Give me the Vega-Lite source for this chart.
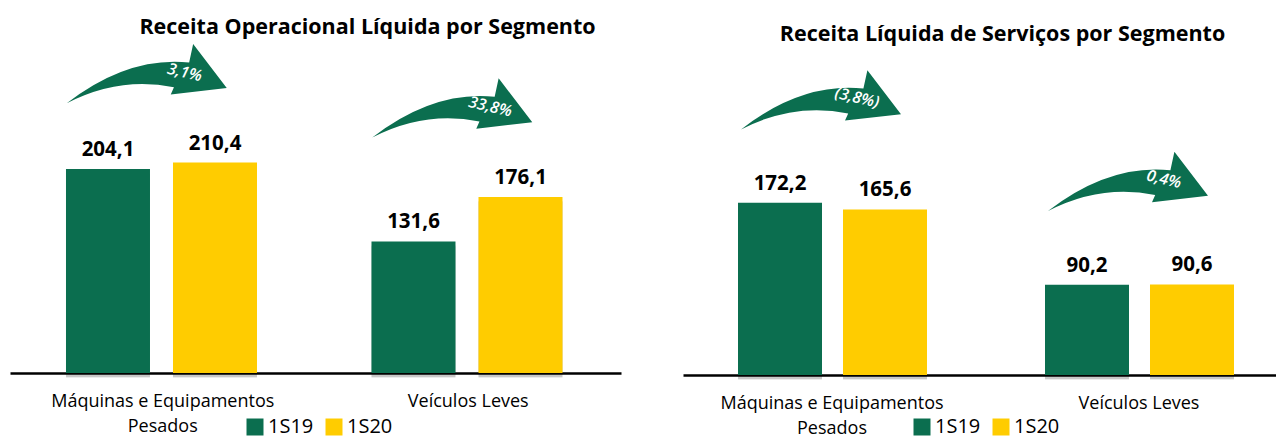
{
  "$schema": "https://vega.github.io/schema/vega-lite/v6.json",
  "padding": {"left": 10, "top": 16, "right": 0, "bottom": 0},
  "bounds": "flush",
  "spacing": 62,
  "config": {"view": {"stroke": null}, "font": "Open Sans"},
  "datasets": {
    "receita": [
      {"segmento": "Máquinas e Equipamentos Pesados", "periodo": "1S19", "valor": 204.1, "rotulo": "204,1"},
      {"segmento": "Máquinas e Equipamentos Pesados", "periodo": "1S20", "valor": 210.4, "rotulo": "210,4"},
      {"segmento": "Veículos Leves", "periodo": "1S19", "valor": 131.6, "rotulo": "131,6"},
      {"segmento": "Veículos Leves", "periodo": "1S20", "valor": 176.1, "rotulo": "176,1"}
    ],
    "setasReceita": [
      {"segmento": "Máquinas e Equipamentos Pesados", "topo": 210.4, "variacao": "3,1%"},
      {"segmento": "Veículos Leves", "topo": 176.1, "variacao": "33,8%"}
    ],
    "servicos": [
      {"segmento": "Máquinas e Equipamentos Pesados", "periodo": "1S19", "valor": 172.2, "rotulo": "172,2"},
      {"segmento": "Máquinas e Equipamentos Pesados", "periodo": "1S20", "valor": 165.6, "rotulo": "165,6"},
      {"segmento": "Veículos Leves", "periodo": "1S19", "valor": 90.2, "rotulo": "90,2"},
      {"segmento": "Veículos Leves", "periodo": "1S20", "valor": 90.6, "rotulo": "90,6"}
    ],
    "setasServicos": [
      {"segmento": "Máquinas e Equipamentos Pesados", "topo": 172.2, "variacao": "(3,8%)"},
      {"segmento": "Veículos Leves", "topo": 90.6, "variacao": "0,4%"}
    ]
  },
  "resolve": {
    "scale": {"x": "independent", "y": "independent", "xOffset": "independent", "color": "independent"},
    "legend": {"color": "independent"}
  },
  "hconcat": [
    {
      "width": 611,
      "height": 332,
      "title": {"text": "Receita Operacional Líquida por Segmento", "font": "Open Sans", "fontSize": 21.5, "fontWeight": "bold", "color": "#000", "anchor": "middle", "dx": 52, "offset": 3},
      "encoding": {
        "x": {
          "field": "segmento", "type": "nominal",
          "sort": ["Máquinas e Equipamentos Pesados", "Veículos Leves"],
          "scale": {"paddingInner": 0, "paddingOuter": 0},
          "axis": {
            "title": null, "labelAngle": 0, "ticks": false, "domainColor": "#000", "domainWidth": 2.5,
            "labelFont": "Open Sans", "labelFontSize": 18, "labelColor": "#000", "labelPadding": 19,
            "labelLineHeight": 25, "labelLimit": 0,
            "labelExpr": "datum.label == 'Máquinas e Equipamentos Pesados' ? ['Máquinas e Equipamentos', 'Pesados'] : datum.label"
          }
        }
      },
      "layer": [
        {
          "data": {"name": "receita"},
          "mark": {"type": "bar", "color": "#000", "opacity": 0.08, "xOffset": 8, "yOffset": 5},
          "encoding": {
            "xOffset": {"field": "periodo", "type": "nominal", "scale": {"paddingInner": 0.215, "paddingOuter": 0.535, "align": 0.489}},
            "y": {"field": "valor", "type": "quantitative", "scale": {"domain": [0, 332], "nice": false}, "axis": null}
          }
        },
        {
          "data": {"name": "receita"},
          "mark": {"type": "bar", "color": "#000", "opacity": 0.15, "xOffset": 4, "yOffset": 4},
          "encoding": {
            "xOffset": {"field": "periodo", "type": "nominal"},
            "y": {"field": "valor", "type": "quantitative"}
          }
        },
        {
          "data": {"name": "receita"},
          "mark": {"type": "bar"},
          "encoding": {
            "xOffset": {"field": "periodo", "type": "nominal"},
            "y": {"field": "valor", "type": "quantitative"},
            "color": {
              "field": "periodo", "type": "nominal",
              "scale": {"domain": ["1S19", "1S20"], "range": ["#0B6E4F", "#FFCC00"]},
              "legend": {"orient": "none", "legendX": 235, "legendY": 376, "direction": "horizontal", "title": null,
                "symbolType": "square", "symbolSize": 289, "symbolStrokeWidth": 0, "symbolOpacity": 1,
                "labelFont": "Open Sans", "labelFontSize": 20, "labelColor": "#000", "columnPadding": 10, "labelOffset": 3}
            }
          }
        },
        {
          "data": {"name": "receita"},
          "mark": {"type": "text", "baseline": "alphabetic", "dy": -13, "font": "Open Sans", "fontSize": 20.5, "fontWeight": "bold", "color": "#000"},
          "encoding": {
            "xOffset": {"field": "periodo", "type": "nominal"},
            "y": {"field": "valor", "type": "quantitative"},
            "text": {"field": "rotulo"}
          }
        },
        {
          "data": {"name": "setasReceita"},
          "mark": {"type": "point", "shape": "M-1,0.37 Q-0.24,-0.22 0.53,-0.14 L0.58,-0.37 L1,0.18 L0.3,0.26 L0.34,0.17 Q-0.34,0.03 -1,0.37 Z",
            "size": 25600, "filled": true, "color": "#0B6E4F", "opacity": 1, "strokeWidth": 0, "xOffset": -16, "yOffset": -89},
          "encoding": {
            "y": {"field": "topo", "type": "quantitative"}
          }
        },
        {
          "data": {"name": "setasReceita"},
          "mark": {"type": "text", "font": "Open Sans", "fontSize": 16, "fontStyle": "italic", "fontWeight": 600, "color": "#fff", "angle": 13,
            "align": "center", "baseline": "middle", "xOffset": 22, "yOffset": -90},
          "encoding": {
            "y": {"field": "topo", "type": "quantitative"},
            "text": {"field": "variacao"}
          }
        }
      ]
    },
    {
      "width": 593,
      "height": 334,
      "title": {"text": "Receita Líquida de Serviços por Segmento", "font": "Open Sans", "fontSize": 21.5, "fontWeight": "bold", "color": "#000", "anchor": "middle", "dx": 23, "offset": -4},
      "encoding": {
        "x": {
          "field": "segmento", "type": "nominal",
          "sort": ["Máquinas e Equipamentos Pesados", "Veículos Leves"],
          "scale": {"paddingInner": 0.0684, "paddingOuter": 0},
          "axis": {
            "title": null, "labelAngle": 0, "ticks": false, "domainColor": "#000", "domainWidth": 2.5,
            "labelFont": "Open Sans", "labelFontSize": 18, "labelColor": "#000", "labelPadding": 19,
            "labelLineHeight": 25, "labelLimit": 0, "labelOffset": 6,
            "labelExpr": "datum.label == 'Máquinas e Equipamentos Pesados' ? ['Máquinas e Equipamentos', 'Pesados'] : datum.label"
          }
        }
      },
      "layer": [
        {
          "data": {"name": "servicos"},
          "mark": {"type": "bar", "color": "#000", "opacity": 0.08, "xOffset": 8, "yOffset": 5},
          "encoding": {
            "xOffset": {"field": "periodo", "type": "nominal", "scale": {"paddingInner": 0.2, "paddingOuter": 0.462, "align": 0.567}},
            "y": {"field": "valor", "type": "quantitative", "scale": {"domain": [0, 334], "nice": false}, "axis": null}
          }
        },
        {
          "data": {"name": "servicos"},
          "mark": {"type": "bar", "color": "#000", "opacity": 0.15, "xOffset": 4, "yOffset": 4},
          "encoding": {
            "xOffset": {"field": "periodo", "type": "nominal"},
            "y": {"field": "valor", "type": "quantitative"}
          }
        },
        {
          "data": {"name": "servicos"},
          "mark": {"type": "bar"},
          "encoding": {
            "xOffset": {"field": "periodo", "type": "nominal"},
            "y": {"field": "valor", "type": "quantitative"},
            "color": {
              "field": "periodo", "type": "nominal",
              "scale": {"domain": ["1S19", "1S20"], "range": ["#0B6E4F", "#FFCC00"]},
              "legend": {"orient": "none", "legendX": 229, "legendY": 376, "direction": "horizontal", "title": null,
                "symbolType": "square", "symbolSize": 289, "symbolStrokeWidth": 0, "symbolOpacity": 1,
                "labelFont": "Open Sans", "labelFontSize": 20, "labelColor": "#000", "columnPadding": 10, "labelOffset": 3}
            }
          }
        },
        {
          "data": {"name": "servicos"},
          "mark": {"type": "text", "baseline": "alphabetic", "dy": -13, "font": "Open Sans", "fontSize": 20.5, "fontWeight": "bold", "color": "#000"},
          "encoding": {
            "xOffset": {"field": "periodo", "type": "nominal"},
            "y": {"field": "valor", "type": "quantitative"},
            "text": {"field": "rotulo"}
          }
        },
        {
          "data": {"name": "setasServicos"},
          "mark": {"type": "point", "shape": "M-1,0.37 Q-0.24,-0.22 0.53,-0.14 L0.58,-0.37 L1,0.18 L0.3,0.26 L0.34,0.17 Q-0.34,0.03 -1,0.37 Z",
            "size": 25600, "filled": true, "color": "#0B6E4F", "opacity": 1, "strokeWidth": 0, "xOffset": -5, "yOffset": -103},
          "encoding": {
            "y": {"field": "topo", "type": "quantitative"}
          }
        },
        {
          "data": {"name": "setasServicos"},
          "mark": {"type": "text", "font": "Open Sans", "fontSize": 16, "fontStyle": "italic", "fontWeight": 600, "color": "#fff", "angle": 13,
            "align": "center", "baseline": "middle", "xOffset": 31, "yOffset": -105},
          "encoding": {
            "y": {"field": "topo", "type": "quantitative"},
            "text": {"field": "variacao"}
          }
        }
      ]
    }
  ]
}
